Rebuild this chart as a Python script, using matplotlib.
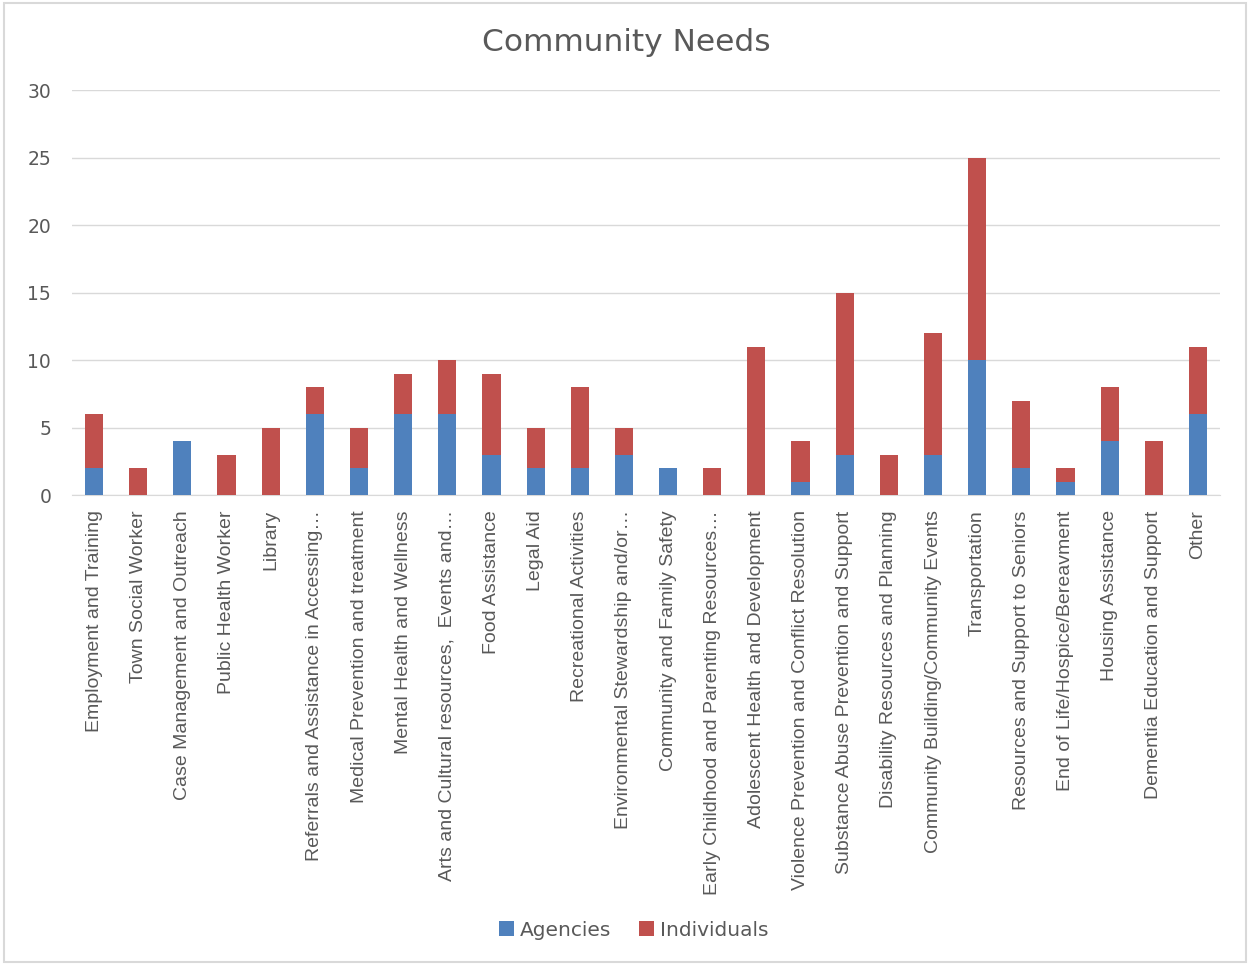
import matplotlib
matplotlib.use('Agg')
import matplotlib.pyplot as plt
import numpy as np

# categories and counts
categories = [
    'Employment and Training', 'Town Social Worker', 'Case Management and Outreach',
    'Public Health Worker', 'Library', 'Referrals and Assistance in Accessing…',
    'Medical Prevention and treatment', 'Mental Health and Wellness',
    'Arts and Cultural resources,  Events and…', 'Food Assistance', 'Legal Aid',
    'Recreational Activities', 'Environmental Stewardship and/or…',
    'Community and Family Safety', 'Early Childhood and Parenting Resources…',
    'Adolescent Health and Development', 'Violence Prevention and Conflict Resolution',
    'Substance Abuse Prevention and Support', 'Disability Resources and Planning',
    'Community Building/Community Events', 'Transportation',
    'Resources and Support to Seniors', 'End of Life/Hospice/Bereavment',
    'Housing Assistance', 'Dementia Education and Support', 'Other',
]
agencies = [2, 0, 4, 0, 0, 6, 2, 6, 6, 3, 2, 2, 3, 2, 0, 0, 1, 3, 0, 3, 10, 2, 1, 4, 0, 6]
individuals = [4, 2, 0, 3, 5, 2, 3, 3, 4, 6, 3, 6, 2, 0, 2, 11, 3, 12, 3, 9, 15, 5, 1, 4, 4, 5]

blue = '#4F81BD'
red = '#C0504D'
text_col = '#595959'

fig = plt.figure(figsize=(12.5, 9.65), dpi=100)
ax = fig.add_axes([0.0576, 0.487, 0.9184, 0.4197])

x = np.arange(len(categories))
ax.bar(x, agencies, width=0.41, color=blue, label='Agencies', zorder=3)
ax.bar(x, individuals, width=0.41, bottom=agencies, color=red, label='Individuals', zorder=3)

ax.set_xlim(-0.5, len(categories) - 0.5)
ax.set_ylim(0, 30)
ax.set_yticks(range(0, 31, 5))
ax.yaxis.grid(True, color='#D9D9D9', linewidth=1, zorder=0)
ax.set_axisbelow(True)
for s in ['top', 'right', 'left']:
    ax.spines[s].set_visible(False)
ax.spines['bottom'].set_color('#D9D9D9')
ax.tick_params(axis='both', length=0, colors=text_col)
ax.tick_params(axis='y', labelsize=13.5, pad=15)

ax.set_xticks(x)
ax.set_xticklabels(categories, rotation=90, fontsize=14, color=text_col,
                   family=['Liberation Sans', 'DejaVu Sans'])
ax.tick_params(axis='x', pad=11)

fig.text(0.501, 0.956, 'Community Needs', ha='center', va='center', fontsize=22.5, color=text_col)

fig.legend(loc='center', bbox_to_anchor=(0.507, 0.036), ncol=2, frameon=False,
           fontsize=14.5, labelcolor=text_col, handlelength=0.75, handleheight=0.75,
           handletextpad=0.3, columnspacing=1.4)

# light border around the chart area
fig.patches.append(plt.Rectangle((0.003, 0.003), 0.994, 0.994, transform=fig.transFigure,
                                 fill=False, edgecolor='#D9D9D9', linewidth=1.5))

fig.savefig('out.png', dpi=100, facecolor='white')
